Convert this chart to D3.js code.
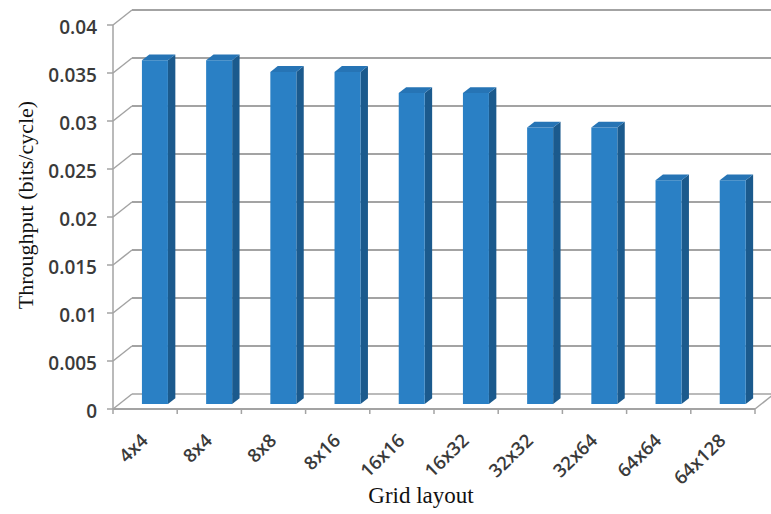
<!DOCTYPE html>
<html>
<head>
<meta charset="utf-8">
<script src="https://cdn.jsdelivr.net/npm/d3@7"></script>
<style>
  html, body { margin: 0; padding: 0; background: #fff; }
  svg { display: block; }
</style>
</head>
<body>
<svg id="chart" width="771" height="514"></svg>
<script>
// Grid layouts and their measured throughput
const categories = ["4x4", "8x4", "8x8", "8x16", "16x16", "16x32", "32x32", "32x64", "64x64", "64x128"];
const throughput = [0.0358, 0.0358, 0.0346, 0.0346, 0.0324, 0.0324, 0.0288, 0.0288, 0.0233, 0.0233];
const yTickValues = [0, 0.005, 0.01, 0.015, 0.02, 0.025, 0.03, 0.035, 0.04];
const yTickLabels = ["0", "0.005", "0.01", "0.015", "0.02", "0.025", "0.03", "0.035", "0.04"];

const svg = d3.select("#chart");

// Front plane of the 3-D box
const x = d3.scaleBand().domain(categories).range([113, 755]).padding(0);
const y = d3.scaleLinear().domain([0, 0.04]).range([409, 25]);

// Depth projection: z in [0,1] shifts right and up
const DX = 19, DY = 15;
const proj = (px, py, z) => [px + z * DX, py - z * DY];

const gridColor = "#a3a3a3";
const labelFont = "'Open Sans', sans-serif";
const titleFont = "'Liberation Serif', 'Times New Roman', serif";

const xLeft = x.range()[0], xRight = x.range()[1];

// Back wall gridlines and left wall diagonals
const grid = svg.append("g");
yTickValues.forEach(v => {
  const [bx, by] = proj(xLeft, y(v), 1);
  const [ex] = proj(xRight, y(v), 1);
  grid.append("line")
    .attr("x1", bx).attr("y1", by).attr("x2", ex).attr("y2", by)
    .attr("stroke", gridColor).attr("stroke-width", v === 0 ? 1.5 : 2);
  grid.append("line")
    .attr("x1", xLeft).attr("y1", y(v)).attr("x2", bx).attr("y2", by)
    .attr("stroke", gridColor).attr("stroke-width", 1.5);
  // tick mark on the front axis
  grid.append("line")
    .attr("x1", xLeft - 6).attr("y1", y(v)).attr("x2", xLeft).attr("y2", y(v))
    .attr("stroke", gridColor).attr("stroke-width", 1.5);
});

// Front vertical axis
grid.append("line")
  .attr("x1", xLeft).attr("y1", y(0.04)).attr("x2", xLeft).attr("y2", y(0))
  .attr("stroke", gridColor).attr("stroke-width", 1.5);

// Floor front edge and right side
const [frx, fry] = proj(xRight, y(0), 1);
grid.append("line")
  .attr("x1", xLeft).attr("y1", y(0)).attr("x2", xRight).attr("y2", y(0))
  .attr("stroke", gridColor).attr("stroke-width", 2);
grid.append("line")
  .attr("x1", xRight).attr("y1", y(0)).attr("x2", frx).attr("y2", fry)
  .attr("stroke", gridColor).attr("stroke-width", 1.5);

// Category tick marks on the floor edge
categories.concat([null]).forEach(c => {
  const tx = c === null ? xRight : x(c);
  grid.append("line")
    .attr("x1", tx).attr("y1", y(0)).attr("x2", tx).attr("y2", y(0) + 5)
    .attr("stroke", gridColor).attr("stroke-width", 1.5);
});

// 3-D columns
const z0 = 0.33, z1 = 0.72;
const step = x.step();
const bars = svg.append("g");
categories.forEach((c, i) => {
  const v = throughput[i];
  const px0 = x(c) + step * 0.353;
  const px1 = px0 + step * 0.405;
  const pyTop = y(v), pyBot = y(0);
  const fTL = proj(px0, pyTop, z0), fTR = proj(px1, pyTop, z0);
  const fBL = proj(px0, pyBot, z0), fBR = proj(px1, pyBot, z0);
  const bTL = proj(px0, pyTop, z1), bTR = proj(px1, pyTop, z1);
  const bBR = proj(px1, pyBot, z1);
  // side face
  bars.append("polygon")
    .attr("points", [fTR, bTR, bBR, fBR].map(p => p.join(",")).join(" "))
    .attr("fill", "#1b5a8d");
  // front face
  bars.append("polygon")
    .attr("points", [fTL, fTR, fBR, fBL].map(p => p.join(",")).join(" "))
    .attr("fill", "#2a80c5");
  // top face
  bars.append("polygon")
    .attr("points", [fTL, bTL, bTR, fTR].map(p => p.join(",")).join(" "))
    .attr("fill", "#2674b5");
});

// Y tick labels
const yl = svg.append("g");
yTickValues.forEach((v, i) => {
  yl.append("text")
    .attr("x", 97).attr("y", y(v) + 2)
    .attr("text-anchor", "end").attr("dominant-baseline", "central")
    .attr("font-family", labelFont).attr("font-size", 19).attr("font-weight", 600)
    .attr("fill", "#3a3a3a")
    .text(yTickLabels[i]);
});

// X tick labels, rotated
const xl = svg.append("g");
categories.forEach(c => {
  const ax = x(c) + x.bandwidth() / 2 + 4;
  const ay = 442;
  xl.append("text")
    .attr("transform", `translate(${ax},${ay}) rotate(-44)`)
    .attr("text-anchor", "end")
    .attr("font-family", labelFont).attr("font-size", 18.5).attr("font-weight", 600)
    .attr("fill", "#3a3a3a")
    .text(c);
});

// Axis titles
svg.append("text")
  .attr("transform", "translate(33,205) rotate(-90)")
  .attr("text-anchor", "middle")
  .attr("font-family", titleFont).attr("font-size", 22)
  .attr("fill", "#111")
  .text("Throughput (bits/cycle)");

svg.append("text")
  .attr("x", 421).attr("y", 503)
  .attr("text-anchor", "middle")
  .attr("font-family", titleFont).attr("font-size", 23)
  .attr("fill", "#111")
  .text("Grid layout");
</script>
</body>
</html>
